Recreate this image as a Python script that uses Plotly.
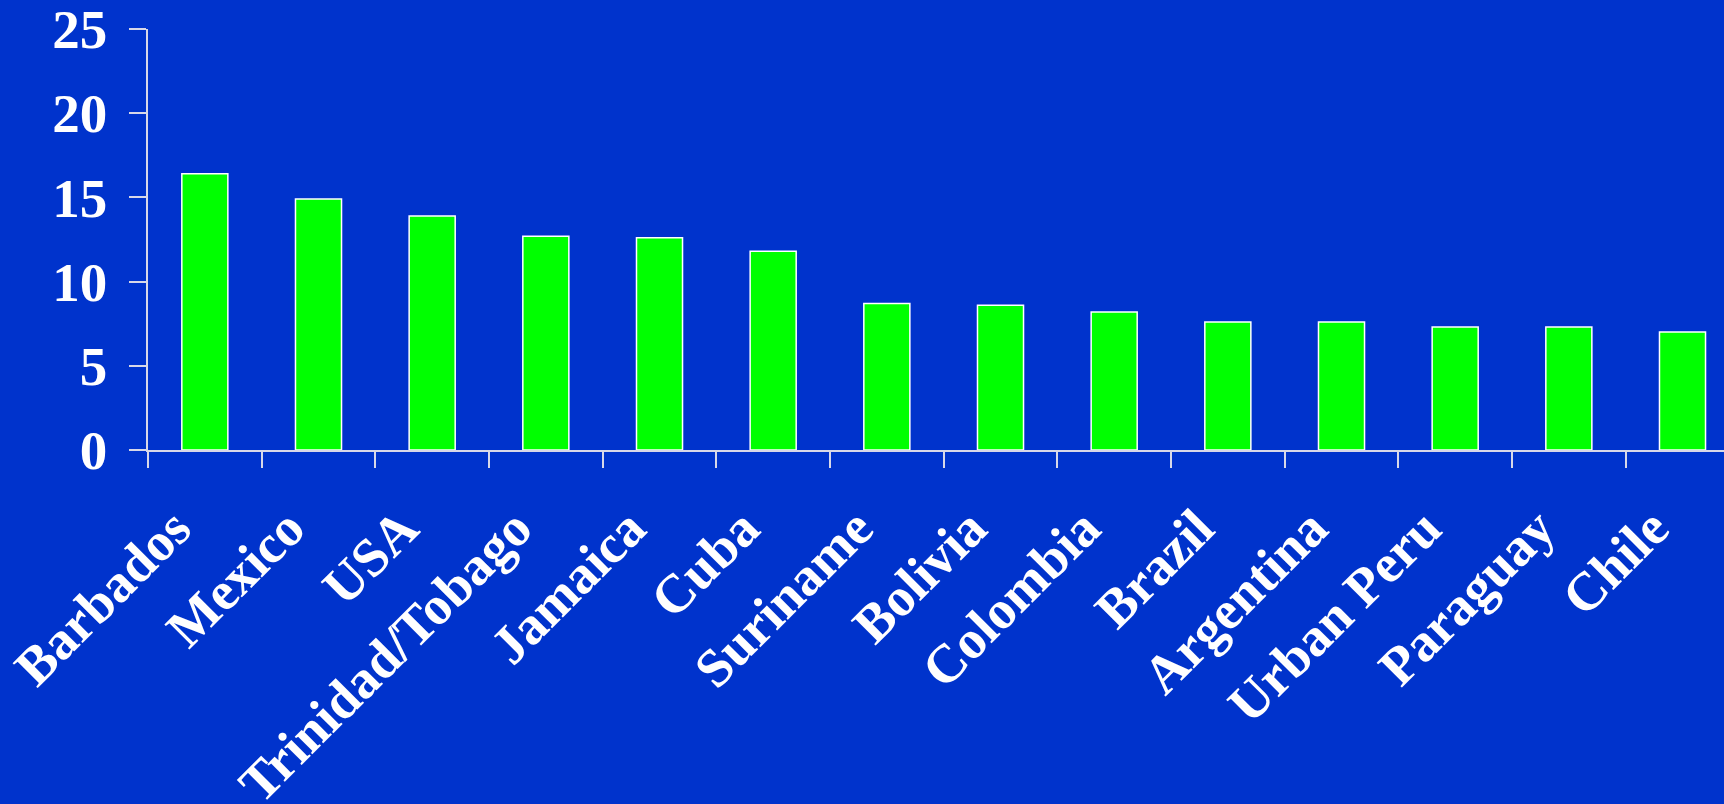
import plotly.graph_objects as go

countries = ["Barbados", "Mexico", "USA", "Trinidad/Tobago", "Jamaica", "Cuba",
             "Suriname", "Bolivia", "Colombia", "Brazil", "Argentina",
             "Urban Peru", "Paraguay", "Chile"]
values = [16.4, 14.9, 13.9, 12.7, 12.6, 11.8, 8.7, 8.6, 8.2, 7.6, 7.6, 7.3, 7.3, 7.0]
y_ticks = [0, 5, 10, 15, 20, 25]

BG = "#0033CC"
AXIS = "#D8D8E8"
FONT = "Liberation Serif, Times New Roman, serif"

fig = go.Figure(go.Bar(
    x=countries,
    y=values,
    width=0.405,
    marker=dict(color="#00FF00", line=dict(color="#FFFFFF", width=1.5)),
))

fig.update_layout(
    width=1724,
    height=804,
    paper_bgcolor=BG,
    plot_bgcolor=BG,
    margin=dict(l=148, r=0, t=29, b=354, autoexpand=False),
    showlegend=False,
    font=dict(family=FONT, color="#FFFFFF", size=52),
)

fig.update_xaxes(
    range=[-0.5, 13.365],
    automargin=False,
    tickangle=-45,
    tickson="boundaries",
    ticks="outside",
    ticklen=16,
    tickwidth=1.5,
    tickcolor=AXIS,
    showline=True,
    linecolor=AXIS,
    linewidth=1.5,
    showgrid=False,
    ticklabelshift=-30,
    ticklabelstandoff=23,
    ticklabeloverflow="allow",
    tickfont=dict(family=FONT, size=54, color="#FFFFFF", weight="bold"),
)

fig.update_yaxes(
    range=[0, 25],
    automargin=False,
    tickvals=y_ticks,
    ticktext=[str(v) for v in y_ticks],
    ticks="outside",
    ticklen=17,
    tickwidth=1.5,
    tickcolor=AXIS,
    showline=True,
    linecolor=AXIS,
    linewidth=1.5,
    showgrid=False,
    zeroline=False,
    ticklabelstandoff=11,
    ticklabeloverflow="allow",
    tickfont=dict(family=FONT, size=55, color="#FFFFFF", weight="bold"),
)

fig.write_html("out.html")
